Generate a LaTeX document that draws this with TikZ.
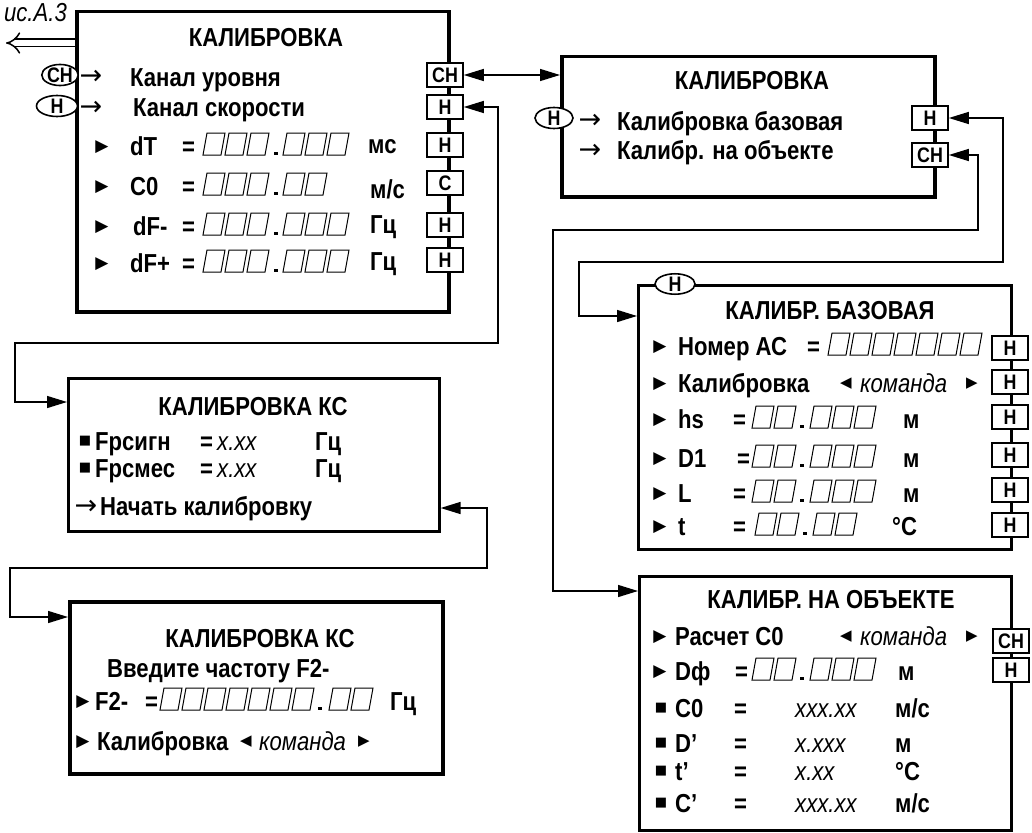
\documentclass[tikz,border=0pt]{standalone}
\usepackage{fontspec}
\setmainfont{Liberation Sans}[FakeStretch=0.85]
\newfontfamily\symfont{DejaVu Sans}
\usetikzlibrary{arrows.meta,positioning,shapes.geometric}

% slanted indicator cells: left x, baseline y, count
\newcommand\cells[3]{%
  \foreach \i in {1,...,#3}
    \draw[cell] ({#1+22*(\i-1)},#2) -- ++(18,0) -- ++(4,-22) -- ++(-18,0) -- cycle;}
\newcommand\cellpoint[2]{\fill (#1,#2) rectangle ++(3.5,-3.5);}

\begin{document}
\begin{tikzpicture}[x=1pt,y=-1pt,
  screen/.style={draw,line width=3.5pt,anchor=north west,inner sep=0pt},
  lightscreen/.style={screen,line width=2.6pt},
  key/.style={draw,line width=1.6pt,fill=white,minimum width=36pt,minimum height=24pt,
              inner sep=0pt,font=\bfseries\fontsize{21}{21}\selectfont},
  oval/.style={ellipse,draw,line width=1.6pt,fill=white,minimum width=38pt,minimum height=21pt,
               inner sep=0pt,font=\bfseries\fontsize{21}{21}\selectfont},
  title/.style={anchor=base,inner sep=0pt,font=\bfseries\fontsize{26}{30}\selectfont},
  txt/.style={anchor=base west,inner sep=0pt,font=\bfseries\fontsize{26}{30}\selectfont},
  val/.style={anchor=base west,inner sep=0pt,font=\itshape\fontsize{26}{30}\selectfont},
  sym/.style={inner sep=0pt,font=\symfont\fontsize{17}{17}\selectfont},
  pick/.style={inner sep=0pt,font=\symfont\fontsize{15}{15}\selectfont},
  box/.style={inner sep=0pt,font=\symfont\fontsize{13}{13}\selectfont},
  arrowsym/.style={inner sep=0pt,font=\symfont\fontsize{27}{27}\selectfont},
  cell/.style={line width=1pt},
  link/.style={{Triangle[length=20pt,width=12pt]}-{Triangle[length=20pt,width=12pt]},line width=1.4pt},
  retarrow/.style={line width=1.5pt,double distance=6pt,-Implies}
]
\useasboundingbox (0,0) rectangle (1032,832);

% screens
\node[screen,minimum width=372pt,minimum height=300pt] (scr1) at (75,10) {};
\node[screen,minimum width=373pt,minimum height=140pt] (scr2) at (560,55) {};
\node[lightscreen,minimum width=371pt,minimum height=153pt] (scr3) at (67,377) {};
\node[screen,minimum width=373pt,minimum height=172pt] (scr4) at (68,600) {};
\node[lightscreen,minimum width=373pt,minimum height=264pt] (scr5) at (637,284) {};
\node[lightscreen,minimum width=372pt,minimum height=254pt] (scr6) at (638,575) {};

% figure reference and exit
\node[anchor=base east,inner sep=0pt,font=\itshape\fontsize{26}{30}\selectfont] (fig) at (67,22) {ис.А.3};
\coordinate (exit) at (6,43);
\draw[retarrow] (exit -| scr1.west) -- (exit);

% screen 1
\node[title] (t1) at (266,47) {КАЛИБРОВКА};
\node[oval,minimum width=35pt] (o1a) at (60,75) {СН};
\node[oval,minimum width=41pt] (o1b) at (57,106) {Н};
\node[arrowsym] (a1a) at (91,77) {→};
\node[arrowsym] (a1b) at (91,108) {→};
\node[txt] (l1a) at (130,87) {Канал уровня};
\node[txt] (l1b) at (133,117) {Канал скорости};
\foreach \lab/\xl/\yb [count=\k] in {dT/130/155,C0/130/195,dF-/133/235,dF+/130/272}{
  \node[sym] (p1\k) at (102,\yb-8) {▶};
  \node[txt] (l1\k) at (\xl,\yb) {\lab};
  \node[txt] (e1\k) at (182,\yb) {=};
}
\cells{203}{155}{3}\cellpoint{274}{155}\cells{283}{155}{3}
\cells{203}{195}{3}\cellpoint{274}{195}\cells{283}{195}{2}
\cells{203}{235}{3}\cellpoint{274}{235}\cells{283}{235}{3}
\cells{203}{272}{3}\cellpoint{274}{272}\cells{283}{272}{3}
\node[txt] (u11) at (368,153) {мс};
\node[txt] (u12) at (370,198) {м/с};
\node[txt] (u13) at (370,233) {Гц};
\node[txt] (u14) at (370,270) {Гц};
\node[key] (k1a) at (445,75) {СН};
\node[key] (k1b) at (445,107) {Н};
\node[key] (k1c) at (445,145) {Н};
\node[key] (k1d) at (445,183) {С};
\node[key] (k1e) at (445,225) {Н};
\node[key] (k1f) at (445,260) {Н};

% screen 2
\node[title] (t2) at (752,90) {КАЛИБРОВКА};
\node[oval] (o2) at (554,118) {Н};
\node[arrowsym] (a2a) at (590,121) {→};
\node[arrowsym] (a2b) at (590,151) {→};
\node[txt] (l2a) at (617,130) {Калибровка базовая};
\node[txt] (l2b) at (617,159) {Калибр. на объекте};
\node[key] (k2a) at (930,118) {Н};
\node[key] (k2b) at (930,155) {СН};

% screen 3
\node[title] (t3) at (253,415) {КАЛИБРОВКА КС};
\node[box] (p31) at (85,441) {■};
\node[txt] (l31) at (95,450) {Fрсигн};
\node[txt] (e31) at (200,450) {=};
\node[val] (v31) at (217,450) {x.xx};
\node[txt] (u31) at (315,450) {Гц};
\node[box] (p32) at (85,468) {■};
\node[txt] (l32) at (95,477) {Fрсмес};
\node[txt] (e32) at (200,477) {=};
\node[val] (v32) at (217,477) {x.xx};
\node[txt] (u32) at (315,477) {Гц};
\node[arrowsym] (a3) at (86,507) {→};
\node[txt] (l33) at (100,515) {Начать калибровку};

% screen 4
\node[title] (t4) at (260,647) {КАЛИБРОВКА КС};
\node[txt] (l40) at (107,677) {Введите частоту F2-};
\node[sym] (p41) at (83,702) {▶};
\node[txt] (l41) at (95,710) {F2-};
\node[txt] (e41) at (145,710) {=};
\cells{160}{710}{7}\cellpoint{318}{710}\cells{329}{710}{2}
\node[txt] (u41) at (390,710) {Гц};
\node[sym] (p42) at (83,742) {▶};
\node[txt] (l42) at (97,750) {Калибровка};
\node[pick] (q42) at (246,742) {◀};
\node[val] (v42) at (259,750) {команда};
\node[pick] (r42) at (364,742) {▶};

% screen 5
\node[oval,minimum width=40pt,minimum height=20pt] (o5) at (675,284) {Н};
\node[title] (t5) at (830,319) {КАЛИБР. БАЗОВАЯ};
\foreach \lab/\yb [count=\k] in {Номер АС/355,Калибровка/392,hs/428,D1/467,L/502,t/535}{
  \node[sym] (p5\k) at (660,\yb-8) {▶};
  \node[txt] (l5\k) at (678,\yb) {\lab};
}
\node[txt] (e51) at (807,355) {=};
\cells{828}{355}{7}
\node[pick] (q52) at (846,384) {◀};
\node[val] (v52) at (860,392) {команда};
\node[pick] (r52) at (972,384) {▶};
\node[txt] (e53) at (733,428) {=};
\cells{752}{428}{2}\cellpoint{800}{428}\cells{810}{428}{3}
\node[txt] (u53) at (903,428) {м};
\node[txt] (e54) at (737,467) {=};
\cells{752}{467}{2}\cellpoint{800}{467}\cells{810}{467}{3}
\node[txt] (u54) at (903,467) {м};
\node[txt] (e55) at (733,502) {=};
\cells{752}{502}{2}\cellpoint{800}{502}\cells{810}{502}{3}
\node[txt] (u55) at (903,502) {м};
\node[txt] (e56) at (733,535) {=};
\cells{755}{535}{2}\cellpoint{803}{535}\cells{813}{535}{2}
\node[txt] (u56) at (892,535) {°C};
\foreach \yk [count=\k] in {348,382,417,455,490,525}
  \node[key] (k5\k) at (1010,\yk) {Н};

% screen 6
\node[title] (t6) at (831,608) {КАЛИБР. НА ОБЪЕКТЕ};
\node[sym] (p61) at (660,637) {▶};
\node[txt] (l61) at (675,645) {Расчет C0};
\node[pick] (q61) at (846,637) {◀};
\node[val] (v61) at (860,645) {команда};
\node[pick] (r61) at (972,637) {▶};
\node[sym] (p62) at (660,672) {▶};
\node[txt] (l62) at (675,680) {Dф};
\node[txt] (e62) at (735,680) {=};
\cells{752}{680}{2}\cellpoint{800}{680}\cells{810}{680}{3}
\node[txt] (u62) at (898,680) {м};
\foreach \lab/\num/\unit/\yb [count=\k from 3] in {C0/xxx.xx/{м/с}/717,D’/x.xxx/м/752,t’/x.xx/°C/780,C’/xxx.xx/{м/с}/812}{
  \node[box] (p6\k) at (661,\yb-9) {■};
  \node[txt] (l6\k) at (675,\yb) {\lab};
  \node[txt] (e6\k) at (734,\yb) {=};
  \node[val] (v6\k) at (795,\yb) {\num};
  \node[txt] (u6\k) at (895,\yb) {\unit};
}
\node[key] (k6a) at (1011,641) {СН};
\node[key] (k6b) at (1011,670) {Н};

% transitions
\draw[link] (k1a.east) -- (k1a.east -| scr2.west);
\draw[link] (k1b.east) -| (498,343) -| (15,402) -- (15,402 -| scr3.west);
\draw[link] (0,508 -| scr3.east) -| (487,568) -| (10,617) -- (10,617 -| scr4.west);
\draw[link] (k2a.east) -| (1003,262) -| (579,316) -- (579,316 -| scr5.west);
\draw[link] (k2b.east) -| (978,230) -| (553,591) -- (553,591 -| scr6.west);
\end{tikzpicture}
\end{document}
